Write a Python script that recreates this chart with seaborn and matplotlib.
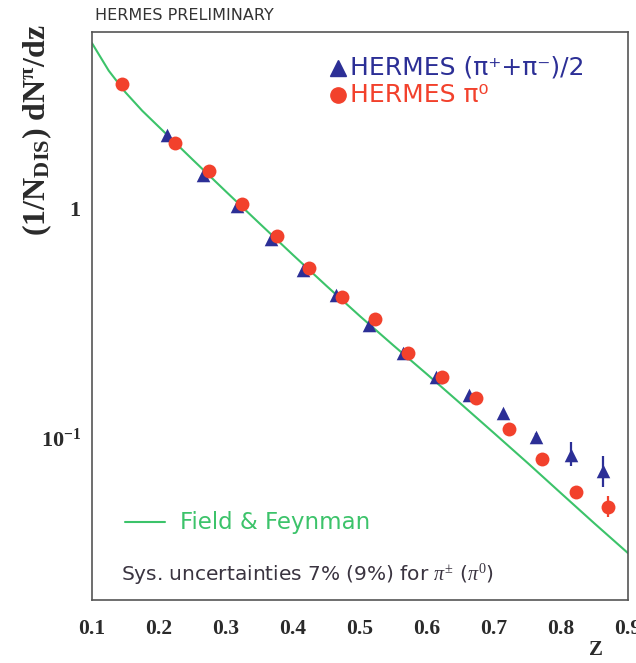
import numpy as np
import pandas as pd
import matplotlib
matplotlib.use("Agg")
import matplotlib.pyplot as plt
import seaborn as sns
from matplotlib.ticker import MultipleLocator, LogLocator, NullFormatter, FixedLocator, FixedFormatter
from matplotlib.lines import Line2D

# ---------------- data ----------------
z_pi0 = [0.145, 0.224, 0.275, 0.324, 0.376, 0.424, 0.473, 0.522, 0.572, 0.622, 0.673, 0.722, 0.772, 0.822, 0.870]
y_pi0 = [3.48, 1.92, 1.45, 1.04, 0.755, 0.547, 0.409, 0.328, 0.233, 0.183, 0.148, 0.108, 0.080, 0.0575, 0.0494]
elo_pi0 = [0, 0, 0, 0, 0, 0, 0, 0, 0, 0, 0, 0, 0.002, 0.0033, 0.0047]
ehi_pi0 = [0, 0, 0, 0, 0, 0, 0, 0, 0, 0, 0, 0, 0.002, 0.0030, 0.0057]

z_pipm = [0.212, 0.266, 0.316, 0.367, 0.415, 0.464, 0.513, 0.564, 0.613, 0.663, 0.713, 0.763, 0.815, 0.863]
y_pipm = [2.08, 1.39, 1.02, 0.732, 0.536, 0.417, 0.308, 0.233, 0.183, 0.153, 0.127, 0.100, 0.0834, 0.0711]
elo_pipm = [0, 0, 0, 0, 0, 0, 0, 0, 0, 0, 0.002, 0.004, 0.0087, 0.0106]
ehi_pipm = [0, 0, 0, 0, 0, 0, 0, 0, 0, 0, 0.002, 0.004, 0.0117, 0.0115]

z_ff = [0.10, 0.125, 0.15, 0.175, 0.20, 0.25, 0.30, 0.35, 0.40, 0.45, 0.50, 0.55, 0.60, 0.65, 0.70, 0.75, 0.80, 0.85, 0.90]
y_ff = [5.25, 3.98, 3.20, 2.66, 2.26, 1.63, 1.18, 0.857, 0.624, 0.457, 0.337, 0.251, 0.188, 0.140, 0.104, 0.0771, 0.0568, 0.0419, 0.0311]

x_ticks = [0.1, 0.2, 0.3, 0.4, 0.5, 0.6, 0.7, 0.8, 0.9]
x_ticklabels = ["0.1", "0.2", "0.3", "0.4", "0.5", "0.6", "0.7", "0.8", "0.9"]
y_ticks = [0.1, 1]
y_ticklabels = [r"$\mathbf{10^{-1}}$", r"$\mathbf{1}$"]

label_pipm = "HERMES (π⁺+π⁻)/2"
label_pi0 = "HERMES π⁰"
label_ff = "Field & Feynman"
title_txt = "HERMES PRELIMINARY"
sys_txt = r"Sys. uncertainties 7% (9%) for $\pi^{\pm}$ ($\pi^{0}$)"
ylabel_txt = r"$\mathbf{(1/N_{DIS})\ dN^{\pi}/dz}$"
xlabel_txt = "Z"

BLUE = "#2c2f96"
RED = "#f2412c"
GREEN = "#3cc36a"
DARK = "#3a3440"

# ---------------- style ----------------
sns.set_style("white")
plt.rcParams["font.family"] = ["DejaVu Sans"]
plt.rcParams["mathtext.fontset"] = "custom"
plt.rcParams["mathtext.rm"] = "Liberation Serif"
plt.rcParams["mathtext.bf"] = "Liberation Serif:bold"
plt.rcParams["mathtext.it"] = "Liberation Serif:italic"

W, H = 636, 663
fig = plt.figure(figsize=(W / 100, H / 100), dpi=100)
fig.patch.set_facecolor("white")


def fp(x, y):
    return (x / W, 1 - y / H)


ax = fig.add_axes([92 / W, 1 - 600 / H, (628 - 92) / W, (600 - 32) / H])
ax.set_facecolor("white")

df_pi0 = pd.DataFrame({"z": z_pi0, "y": y_pi0})
df_pipm = pd.DataFrame({"z": z_pipm, "y": y_pipm})
df_ff = pd.DataFrame({"z": z_ff, "y": y_ff})

sns.lineplot(data=df_ff, x="z", y="y", ax=ax, color=GREEN, lw=1.5, sort=False, zorder=2)
ax.errorbar(z_pipm, y_pipm, yerr=[elo_pipm, ehi_pipm], fmt="none", ecolor=BLUE, elinewidth=1.6, zorder=3)
ax.errorbar(z_pi0, y_pi0, yerr=[elo_pi0, ehi_pi0], fmt="none", ecolor=RED, elinewidth=1.6, zorder=3)
sns.scatterplot(data=df_pipm, x="z", y="y", ax=ax, marker="^", s=95, color=BLUE, linewidth=0, zorder=4)
sns.scatterplot(data=df_pi0, x="z", y="y", ax=ax, marker="o", s=100, color=RED, linewidth=0, zorder=5)

ax.set_yscale("log")
ax.set_xlim(0.1, 0.9)
ax.set_ylim(10 ** -1.712, 10 ** 0.769)

ax.xaxis.set_major_locator(FixedLocator(x_ticks))
ax.xaxis.set_major_formatter(FixedFormatter(x_ticklabels))
ax.xaxis.set_minor_locator(MultipleLocator(0.02))
ax.yaxis.set_major_locator(FixedLocator(y_ticks))
ax.yaxis.set_major_formatter(FixedFormatter(y_ticklabels))
ax.yaxis.set_minor_locator(LogLocator(base=10, subs=[2, 3, 4, 5, 6, 7, 8, 9]))
ax.yaxis.set_minor_formatter(NullFormatter())

ax.tick_params(axis="both", which="both", direction="in", color="#555555", width=1.0,
               top=False, right=False)
ax.tick_params(axis="x", which="major", length=7, pad=14)
ax.tick_params(axis="x", which="minor", length=3.5)
ax.tick_params(axis="y", which="major", length=8, pad=8)
ax.tick_params(axis="y", which="minor", length=4.5)
for lab in ax.get_xticklabels():
    lab.set_fontfamily("Liberation Serif")
    lab.set_fontweight("bold")
    lab.set_fontsize(15.5)
    lab.set_color("#2a2a2a")
for lab in ax.get_yticklabels():
    lab.set_fontsize(16)
    lab.set_color("#2a2a2a")

for sp in ax.spines.values():
    sp.set_color("#555555")
    sp.set_linewidth(1.2)

ax.set_xlabel("")
ax.set_ylabel("")

# ---------------- texts ----------------
fig.text(*fp(95, 16), title_txt, fontsize=11.5, color="#333333", va="center", ha="left")
fig.text(*fp(37, 130), ylabel_txt, fontsize=23, color="#2a2a2a", rotation=90,
         va="center", ha="center")
fig.text(*fp(596, 650), xlabel_txt, fontsize=15, fontweight="bold", family="Liberation Serif",
         color="#2a2a2a", va="center", ha="center")

# legend (manual placement)
fig.add_artist(Line2D([338 / W], [1 - 68 / H], marker="^", markersize=11, color=BLUE, lw=0,
                      transform=fig.transFigure))
fig.text(*fp(350, 68), label_pipm, fontsize=18, color=BLUE, va="center", ha="left")
fig.add_artist(Line2D([338 / W], [1 - 95 / H], marker="o", markersize=11, color=RED, lw=0,
                      transform=fig.transFigure))
fig.text(*fp(350, 95), label_pi0, fontsize=18, color=RED, va="center", ha="left")

fig.add_artist(Line2D([125 / W, 165 / W], [1 - 522 / H, 1 - 522 / H], color=GREEN, lw=1.5,
                      transform=fig.transFigure))
fig.text(*fp(180, 522), label_ff, fontsize=16.5, color=GREEN, va="center", ha="left")

fig.text(*fp(121, 574), sys_txt, fontsize=14.5, color=DARK, va="center", ha="left")

fig.savefig("out.png", dpi=100, facecolor="white")
